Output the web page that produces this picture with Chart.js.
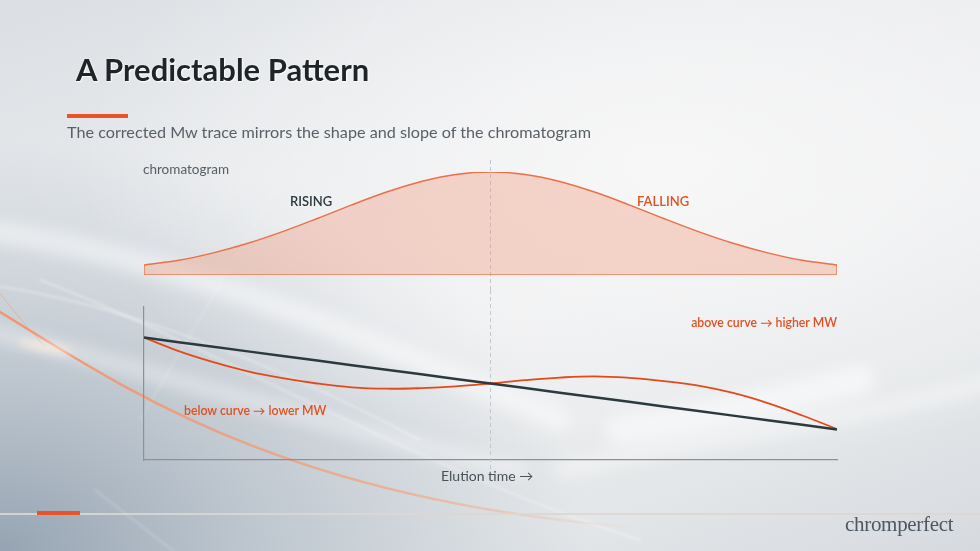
<!DOCTYPE html>
<html>
<head>
<meta charset="utf-8">
<script src="https://cdn.jsdelivr.net/npm/chart.js@4.4.1/dist/chart.umd.min.js"></script>
<style>
  body { margin: 0; width: 980px; height: 551px; overflow: hidden; font-family: Lato, "Open Sans", sans-serif; }
  #slide {
    position: relative; width: 980px; height: 551px; overflow: hidden;
    background:
      radial-gradient(ellipse 60% 55% at 68% 30%, rgba(248,248,248,0.95) 0%, rgba(246,246,247,0.6) 45%, rgba(246,246,247,0) 100%),
      radial-gradient(ellipse 60% 75% at 0% 100%, rgba(145,160,175,0.95) 0%, rgba(168,180,192,0.7) 40%, rgba(190,200,208,0) 100%),
      linear-gradient(160deg, #dbdfe3 0%, #e9ebed 30%, #eeeff0 55%, #e4e7e9 80%, #d6dadf 100%);
  }
  canvas { position: absolute; left: 0; }
  .txt { position: absolute; white-space: nowrap; }
  #title { left: 76px; top: 50px; font-size: 31px; font-weight: 700; color: #1e2428;
           text-shadow: 0 0 2px #fff, 1px 1px 1px rgba(255,255,255,0.9); }
  #titleBar { position: absolute; left: 67px; top: 114px; width: 61px; height: 4px; background: #e8532b; }
  #subtitle { left: 67px; top: 122px; font-size: 16.2px; color: #585f66; }
  #chromLabel { left: 143px; top: 161px; font-size: 13.5px; color: #575e65; }
  #rising { left: 290px; top: 193px; font-size: 13px; font-weight: 600; color: #2c3a3f; }
  #falling { left: 637px; top: 193px; font-size: 13px; font-weight: 600; color: #e0511f; }
  #above { right: 143px; top: 315px; font-size: 12.3px; font-weight: 600; color: #e0511f; }
  #below { left: 184px; top: 403px; font-size: 12.3px; font-weight: 600; color: #e0511f; }
  #xLabel { left: 441px; top: 467px; font-size: 14px; color: #4a5157; }
  #footLine { position: absolute; left: 0; top: 513px; width: 980px; height: 2px; background: rgba(222,214,208,0.9); }
  #footBar { position: absolute; left: 37px; top: 511px; width: 43px; height: 4px; background: #e8532b; }
  #logo { left: 845px; top: 512px; font-size: 21px; font-family: "Liberation Serif", "DejaVu Serif", serif;
          color: #4d5761; letter-spacing: -0.3px; }
</style>
</head>
<body>
<div id="slide">
  <canvas id="bg" width="980" height="551" style="top:0"></canvas>
  <canvas id="chromChart" style="top:150px"></canvas>
  <canvas id="mwChart" style="top:290px"></canvas>
  <div class="txt" id="title">A Predictable Pattern</div>
  <div id="titleBar"></div>
  <div class="txt" id="subtitle">The corrected Mw trace mirrors the shape and slope of the chromatogram</div>
  <div class="txt" id="chromLabel">chromatogram</div>
  <div class="txt" id="rising">RISING</div>
  <div class="txt" id="falling">FALLING</div>
  <div class="txt" id="above">above curve → higher MW</div>
  <div class="txt" id="below">below curve → lower MW</div>
  <div class="txt" id="xLabel">Elution time →</div>
  <div id="footLine"></div>
  <div id="footBar"></div>
  <div class="txt" id="logo">chromperfect</div>
</div>
<script>
// elution time positions (relative, 0-100)
var elutionTime = [0, 5, 10, 15, 20, 25, 30, 35, 40, 45, 50, 55, 60, 65, 70, 75, 80, 85, 90, 95, 100];
// chromatogram signal (peak = 100)
var chromatogram = [9.7, 14.3, 21.5, 30.8, 42.1, 54.8, 68.1, 80.5, 90.8, 97.6, 100, 97.6, 90.8, 80.5, 68.1, 54.8, 42.1, 30.8, 21.5, 14.3, 9.7];
// molecular weight traces
var idealMw = [80, 77, 74, 71, 68, 65, 62, 59, 56, 53, 50, 47, 44, 41, 38, 35, 32, 29, 26, 23, 20];
var correctedMw = [80, 71.2, 64, 58, 53.5, 50, 47.5, 46.6, 47, 48.1, 50, 52.2, 53.9, 54.7, 53.7, 51.6, 48.6, 43.8, 37.2, 29.1, 20.2];
var markerTime = 50;

// decorative background streaks
(function() {
    var c = document.getElementById('bg').getContext('2d');
    c.lineCap = 'round';
    // soft white sweeps
    c.filter = 'blur(8px)';
    c.strokeStyle = 'rgba(255,255,255,0.5)';
    c.lineWidth = 22;
    c.beginPath(); c.moveTo(-20, 230); c.bezierCurveTo(150, 250, 350, 330, 560, 420); c.stroke();
    c.lineWidth = 14;
    c.strokeStyle = 'rgba(255,255,255,0.45)';
    c.beginPath(); c.moveTo(-20, 330); c.bezierCurveTo(120, 360, 300, 420, 520, 470); c.stroke();
    c.beginPath(); c.moveTo(560, 470); c.bezierCurveTo(700, 440, 850, 420, 1000, 380); c.stroke();
    c.strokeStyle = 'rgba(255,255,255,0.55)';
    c.lineWidth = 30;
    c.beginPath(); c.moveTo(620, 430); c.bezierCurveTo(700, 420, 780, 400, 860, 380); c.stroke();
    c.filter = 'blur(1.5px)';
    c.lineWidth = 1.5;
    c.strokeStyle = 'rgba(255,255,255,0.5)';
    c.beginPath(); c.moveTo(-10, 285); c.bezierCurveTo(100, 300, 250, 350, 420, 440); c.stroke();
    c.beginPath(); c.moveTo(40, 280); c.bezierCurveTo(200, 340, 420, 470, 640, 540); c.stroke();
    c.lineWidth = 1;
    c.beginPath(); c.moveTo(95, 490); c.lineTo(185, 560); c.stroke();
    c.strokeStyle = 'rgba(255,255,255,0.35)';
    c.beginPath(); c.moveTo(390, -5); c.lineTo(140, 420); c.stroke();
    // orange streak
    c.filter = 'blur(0.6px)';
    var g = c.createLinearGradient(0, 0, 640, 0);
    g.addColorStop(0, 'rgba(246,140,100,0.9)');
    g.addColorStop(0.6, 'rgba(246,160,120,0.7)');
    g.addColorStop(1, 'rgba(246,170,130,0)');
    c.strokeStyle = g;
    c.lineWidth = 2.5;
    c.beginPath(); c.moveTo(0, 312); c.bezierCurveTo(120, 385, 280, 500, 640, 528); c.stroke();
    c.lineWidth = 1;
    c.strokeStyle = 'rgba(246,160,120,0.6)';
    c.beginPath(); c.moveTo(0, 293); c.bezierCurveTo(20, 320, 35, 335, 45, 347); c.stroke();
    // flare
    c.filter = 'blur(4px)';
    c.fillStyle = 'rgba(255,240,225,0.8)';
    c.beginPath(); c.ellipse(45, 347, 28, 4, 0.2, 0, Math.PI * 2); c.fill();
    c.filter = 'none';
})();

// dashed vertical marker through both panels
var markerLine = {
    id: 'markerLine',
    beforeDatasetsDraw: function(chart, args, opts) {
        var ctx = chart.ctx;
        var x = chart.scales.x.getPixelForValue(markerTime);
        ctx.save();
        ctx.strokeStyle = '#c3c7cb';
        ctx.lineWidth = 1;
        ctx.setLineDash([4, 3]);
        ctx.beginPath();
        ctx.moveTo(x, opts.top);
        ctx.lineTo(x, opts.bottom);
        ctx.stroke();
        ctx.restore();
    }
};

function pairs(ys) {
    return elutionTime.map(function(t, i) { return { x: t, y: ys[i] }; });
}

// chromatogram panel
var chromEl = document.getElementById('chromChart');
chromEl.width = 980; chromEl.height = 140;
new Chart(chromEl.getContext('2d'), {
    type: 'line',
    data: {
        datasets: [{
            data: pairs(chromatogram),
            borderColor: '#e8714a',
            borderWidth: 1.5,
            backgroundColor: 'rgba(240,150,120,0.36)',
            fill: 'origin',
            tension: 0.4,
            cubicInterpolationMode: 'monotone',
            pointRadius: 0
        }, {
            // closing edges of the filled peak
            data: [
                { x: elutionTime[0], y: chromatogram[0] },
                { x: elutionTime[0], y: 0 },
                { x: elutionTime[elutionTime.length - 1], y: 0 },
                { x: elutionTime[elutionTime.length - 1], y: chromatogram[chromatogram.length - 1] }
            ],
            borderColor: '#e8714a',
            borderWidth: 1.5,
            fill: false,
            tension: 0,
            pointRadius: 0
        }]
    },
    options: {
        responsive: false,
        animation: false,
        events: [],
        layout: { padding: { left: 144, right: 143, top: 22, bottom: 15 } },
        scales: {
            x: { type: 'linear', min: 0, max: 100, display: false },
            y: { min: 0, max: 100, display: false }
        },
        plugins: {
            legend: { display: false },
            tooltip: { enabled: false },
            markerLine: { top: 10, bottom: 140 }
        }
    },
    plugins: [markerLine]
});

// Mw panel
var mwEl = document.getElementById('mwChart');
mwEl.width = 980; mwEl.height = 190;
new Chart(mwEl.getContext('2d'), {
    type: 'line',
    data: {
        datasets: [{
            label: 'Ideal Mw',
            data: pairs(idealMw),
            borderColor: '#2a3a3e',
            borderWidth: 2.5,
            tension: 0,
            pointRadius: 0
        }, {
            label: 'Corrected Mw',
            data: pairs(correctedMw),
            borderColor: '#e34a1b',
            borderWidth: 1.8,
            tension: 0.4,
            pointRadius: 0
        }]
    },
    options: {
        responsive: false,
        animation: false,
        events: [],
        layout: { padding: { left: 144, right: 143, top: 17, bottom: 20 } },
        scales: {
            x: {
                type: 'linear', min: 0, max: 100,
                ticks: { display: false },
                grid: { display: false, drawTicks: false },
                border: { display: true, color: '#8c9197', width: 1.2 },
                afterFit: function(s) { s.height = 0; }
            },
            y: {
                min: 0, max: 100,
                ticks: { display: false },
                grid: { display: false, drawTicks: false },
                border: { display: true, color: '#8c9197', width: 1.2 },
                afterFit: function(s) { s.width = 0; }
            }
        },
        plugins: {
            legend: { display: false },
            tooltip: { enabled: false },
            markerLine: { top: 0, bottom: 180 }
        }
    },
    plugins: [markerLine]
});
</script>
</body>
</html>
